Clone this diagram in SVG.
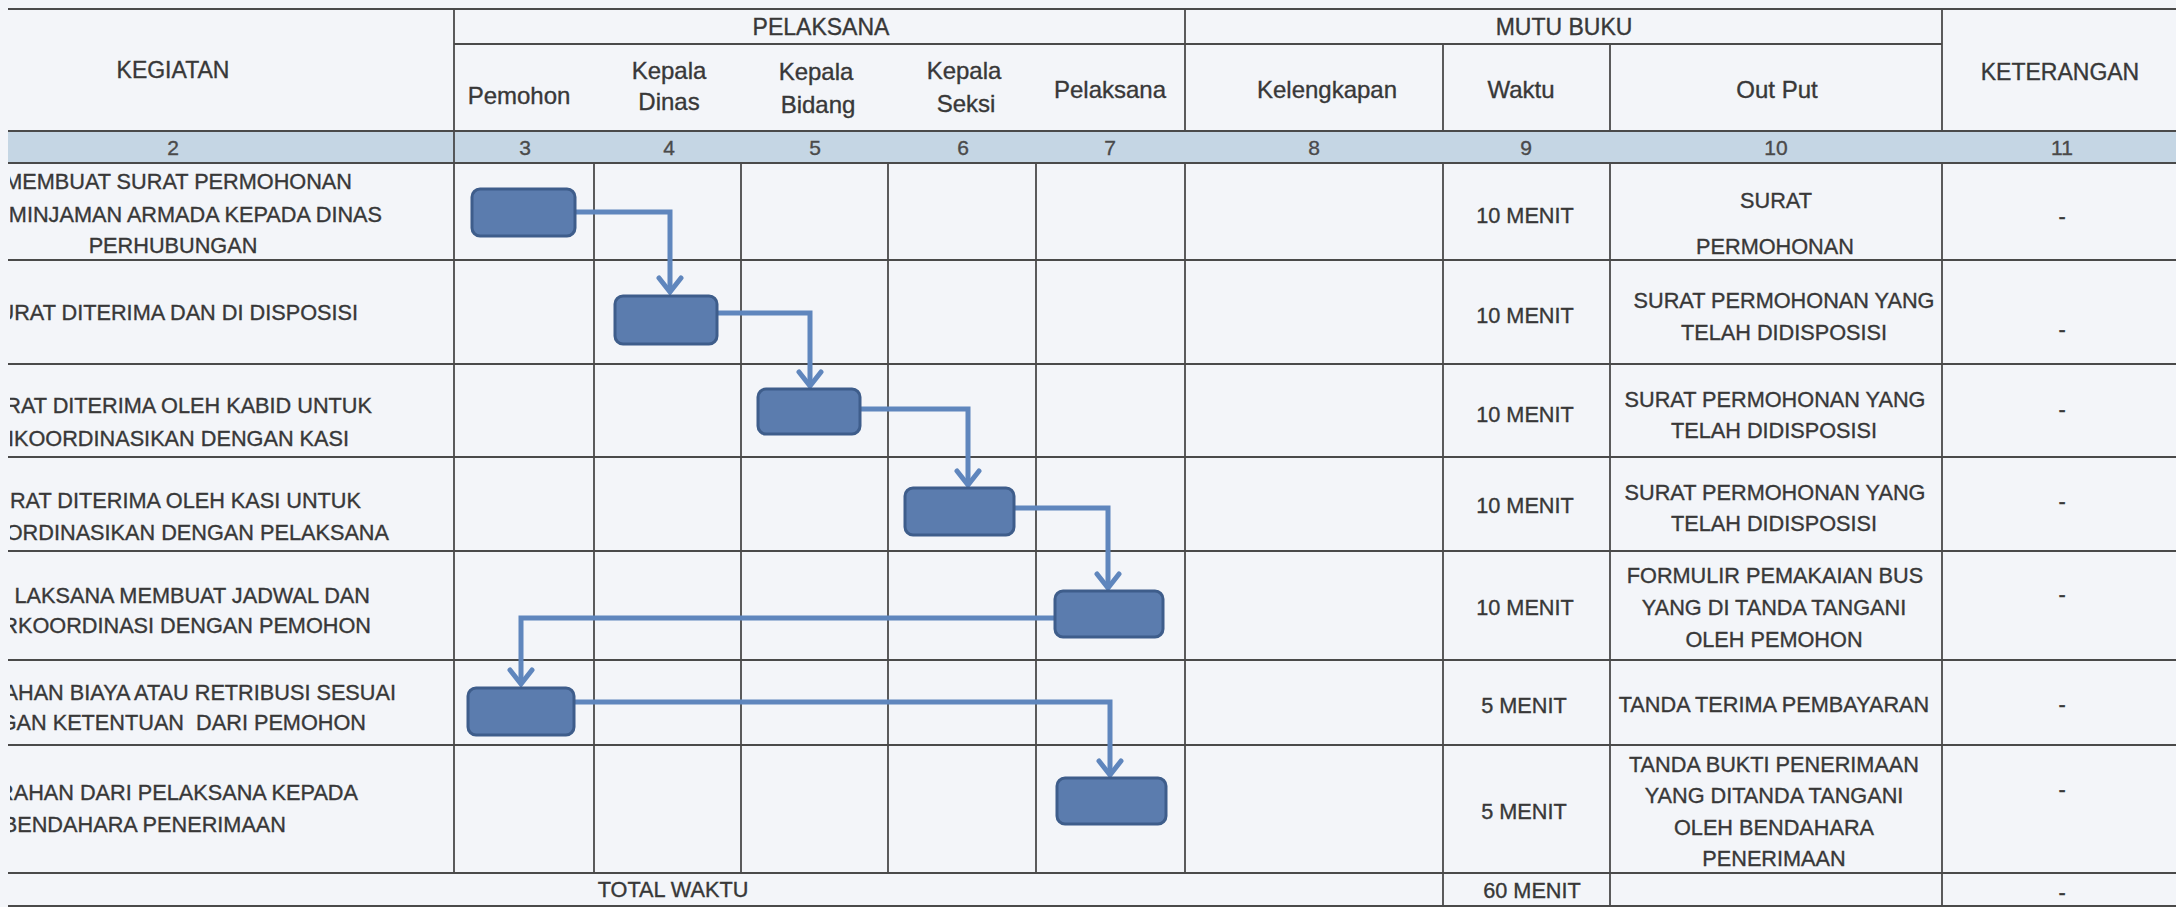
<svg xmlns="http://www.w3.org/2000/svg" width="2176" height="907" viewBox="0 0 2176 907">
  <style>
    .bg { fill: #f3f5f9; }
    .band { fill: #c5d6e4; }
    .grid { stroke: #4a4a4a; stroke-width: 1.8; fill: none; }
    .t { font-family: "Liberation Sans", Arial, sans-serif; font-size: 21.7px; fill: #383838; stroke: #383838; stroke-width: 0.35px; }
    .c { text-anchor: middle; }
    .e { text-anchor: end; }
    .hu { font-size: 23px; }
    .hl { font-size: 24px; }
    .num { font-size: 21px; fill: #4a4a4a; stroke: #4a4a4a; text-anchor: middle; }
    .box { fill: #5b7cae; stroke: #3e5d8b; stroke-width: 3; }
    .conn { fill: none; stroke: #5f86bd; stroke-width: 5; stroke-linejoin: miter; }
  </style>
  <defs>
    <marker id="arrow" markerUnits="userSpaceOnUse" markerWidth="34" markerHeight="34" viewBox="-17 -17 34 34" refX="0" refY="0" orient="auto">
      <path d="M -14 -11 L 0 0 L -14 11" fill="none" stroke="#5f86bd" stroke-width="5" stroke-linecap="round" stroke-linejoin="miter"/>
    </marker>
    <clipPath id="leftClip">
      <rect x="10" y="0" width="444" height="907"/>
    </clipPath>
  </defs>

  <rect class="bg" x="0" y="0" width="2176" height="907"/>
  <rect class="band" x="8" y="131" width="2168" height="32"/>

  <!-- table rules -->
  <g id="grid" class="grid">
    <line x1="8" y1="9" x2="2176" y2="9"/>
    <line x1="454" y1="44" x2="1942" y2="44"/>
    <line x1="8" y1="131" x2="2176" y2="131"/>
    <line x1="8" y1="163" x2="2176" y2="163"/>
    <line x1="8" y1="260" x2="2176" y2="260"/>
    <line x1="8" y1="364" x2="2176" y2="364"/>
    <line x1="8" y1="457" x2="2176" y2="457"/>
    <line x1="8" y1="551" x2="2176" y2="551"/>
    <line x1="8" y1="660" x2="2176" y2="660"/>
    <line x1="8" y1="745" x2="2176" y2="745"/>
    <line x1="8" y1="873" x2="2176" y2="873"/>
    <line x1="8" y1="906" x2="2176" y2="906"/>

    <line x1="454" y1="9" x2="454" y2="873"/>
    <line x1="594" y1="163" x2="594" y2="873"/>
    <line x1="741" y1="163" x2="741" y2="873"/>
    <line x1="888" y1="163" x2="888" y2="873"/>
    <line x1="1036" y1="163" x2="1036" y2="873"/>
    <line x1="1185" y1="9" x2="1185" y2="131"/>
    <line x1="1185" y1="163" x2="1185" y2="873"/>
    <line x1="1443" y1="44" x2="1443" y2="131"/>
    <line x1="1443" y1="163" x2="1443" y2="906"/>
    <line x1="1610" y1="44" x2="1610" y2="131"/>
    <line x1="1610" y1="163" x2="1610" y2="906"/>
    <line x1="1942" y1="9" x2="1942" y2="131"/>
    <line x1="1942" y1="163" x2="1942" y2="906"/>
  </g>

  <!-- column headings -->
  <g id="header" class="t">
    <text class="c hu" x="173" y="78">KEGIATAN</text>
    <text class="c hu" x="821" y="35">PELAKSANA</text>
    <text class="c hu" x="1564" y="35">MUTU BUKU</text>
    <text class="c hu" x="2060" y="80">KETERANGAN</text>
    <text class="c hl" x="519" y="104">Pemohon</text>
    <text class="c hl" x="669" y="79">Kepala</text>
    <text class="c hl" x="669" y="110">Dinas</text>
    <text class="c hl" x="816" y="80">Kepala</text>
    <text class="c hl" x="818" y="113">Bidang</text>
    <text class="c hl" x="964" y="79">Kepala</text>
    <text class="c hl" x="966" y="112">Seksi</text>
    <text class="c hl" x="1110" y="98">Pelaksana</text>
    <text class="c hl" x="1327" y="98">Kelengkapan</text>
    <text class="c hl" x="1521" y="98">Waktu</text>
    <text class="c hl" x="1777" y="98">Out Put</text>
  </g>

  <!-- column numbers -->
  <g id="numbers" class="t">
    <text class="num" x="173" y="155">2</text>
    <text class="num" x="525" y="155">3</text>
    <text class="num" x="669" y="155">4</text>
    <text class="num" x="815" y="155">5</text>
    <text class="num" x="963" y="155">6</text>
    <text class="num" x="1110" y="155">7</text>
    <text class="num" x="1314" y="155">8</text>
    <text class="num" x="1526" y="155">9</text>
    <text class="num" x="1776" y="155">10</text>
    <text class="num" x="2062" y="155">11</text>
  </g>

  <!-- activity descriptions (column cut at the left page edge) -->
  <g id="kegiatan" class="t" clip-path="url(#leftClip)">
    <text class="e" x="352" y="189">MEMBUAT SURAT PERMOHONAN</text>
    <text class="e" x="382" y="222">MINJAMAN ARMADA KEPADA DINAS</text>
    <text class="c" x="173" y="253">PERHUBUNGAN</text>
    <text class="e" x="358" y="320">URAT DITERIMA DAN DI DISPOSISI</text>
    <text class="e" x="372" y="413">RAT DITERIMA OLEH KABID UNTUK</text>
    <text class="e" x="349" y="446">IKOORDINASIKAN DENGAN KASI</text>
    <text class="e" x="361" y="508">RAT DITERIMA OLEH KASI UNTUK</text>
    <text class="e" x="389" y="540">ORDINASIKAN DENGAN PELAKSANA</text>
    <text class="e" x="370" y="603">LAKSANA MEMBUAT JADWAL DAN</text>
    <text class="e" x="371" y="633">RKOORDINASI DENGAN PEMOHON</text>
    <text class="e" x="396" y="700">AHAN BIAYA ATAU RETRIBUSI SESUAI</text>
    <text class="e" x="366" y="730" xml:space="preserve">GAN KETENTUAN  DARI PEMOHON</text>
    <text class="e" x="358" y="800">RAHAN DARI PELAKSANA KEPADA</text>
    <text class="e" x="286" y="832">BENDAHARA PENERIMAAN</text>
  </g>

  <!-- total row -->
  <g id="total" class="t c">
    <text x="673" y="897">TOTAL WAKTU</text>
  </g>

  <!-- time column -->
  <g id="waktu" class="t c">
    <text x="1525" y="223">10 MENIT</text>
    <text x="1525" y="323">10 MENIT</text>
    <text x="1525" y="422">10 MENIT</text>
    <text x="1525" y="513">10 MENIT</text>
    <text x="1525" y="615">10 MENIT</text>
    <text x="1524" y="713">5 MENIT</text>
    <text x="1524" y="819">5 MENIT</text>
    <text x="1532" y="898">60 MENIT</text>
  </g>

  <!-- output column -->
  <g id="output" class="t c">
    <text x="1776" y="208">SURAT</text>
    <text x="1775" y="254">PERMOHONAN</text>
    <text x="1784" y="308">SURAT PERMOHONAN YANG</text>
    <text x="1784" y="340">TELAH DIDISPOSISI</text>
    <text x="1775" y="407">SURAT PERMOHONAN YANG</text>
    <text x="1774" y="438">TELAH DIDISPOSISI</text>
    <text x="1775" y="500">SURAT PERMOHONAN YANG</text>
    <text x="1774" y="531">TELAH DIDISPOSISI</text>
    <text x="1775" y="583">FORMULIR PEMAKAIAN BUS</text>
    <text x="1774" y="615">YANG DI TANDA TANGANI</text>
    <text x="1774" y="647">OLEH PEMOHON</text>
    <text x="1774" y="712">TANDA TERIMA PEMBAYARAN</text>
    <text x="1774" y="772">TANDA BUKTI PENERIMAAN</text>
    <text x="1774" y="803">YANG DITANDA TANGANI</text>
    <text x="1774" y="835">OLEH BENDAHARA</text>
    <text x="1774" y="866">PENERIMAAN</text>
  </g>

  <!-- remarks column -->
  <g id="keterangan" class="t c">
    <text x="2062" y="224">-</text>
    <text x="2062" y="337">-</text>
    <text x="2062" y="417">-</text>
    <text x="2062" y="509">-</text>
    <text x="2062" y="602">-</text>
    <text x="2062" y="712">-</text>
    <text x="2062" y="797">-</text>
    <text x="2062" y="900">-</text>
  </g>

  <!-- flow connectors -->
  <g id="connectors" class="conn">
    <path d="M575,212 H670 V292" marker-end="url(#arrow)"/>
    <path d="M717,313 H810 V386" marker-end="url(#arrow)"/>
    <path d="M860,409 H968 V485" marker-end="url(#arrow)"/>
    <path d="M1014,508 H1108 V588" marker-end="url(#arrow)"/>
    <path d="M1055,618 H521 V684" marker-end="url(#arrow)"/>
    <path d="M574,702 H1110 V775" marker-end="url(#arrow)"/>
  </g>

  <!-- process steps -->
  <g id="step1"><rect class="box" x="472" y="189" width="103" height="47" rx="8"/></g>
  <g id="step2"><rect class="box" x="615" y="296" width="102" height="48" rx="8"/></g>
  <g id="step3"><rect class="box" x="758" y="389" width="102" height="45" rx="8"/></g>
  <g id="step4"><rect class="box" x="905" y="488" width="109" height="47" rx="8"/></g>
  <g id="step5"><rect class="box" x="1055" y="591" width="108" height="46" rx="8"/></g>
  <g id="step6"><rect class="box" x="468" y="688" width="106" height="47" rx="8"/></g>
  <g id="step7"><rect class="box" x="1057" y="778" width="109" height="46" rx="8"/></g>
</svg>
